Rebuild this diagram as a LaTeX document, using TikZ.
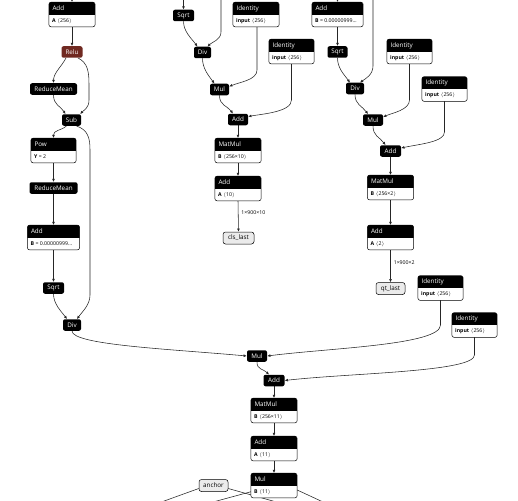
\documentclass[tikz,border=0pt]{standalone}
\usepackage{fontspec}
\setmainfont{Open Sans}
\usetikzlibrary{arrows.meta,backgrounds}
\definecolor{reluc}{HTML}{702921}
\newcommand{\hdrfont}{\fontsize{6.3pt}{7pt}\selectfont}
\newcommand{\bdyfont}{\fontsize{5.2pt}{6pt}\selectfont}
\newcommand{\lblfont}{\fontsize{5.2pt}{6pt}\selectfont}
\newcommand{\angv}[1]{$\langle$#1$\rangle$}
\newcommand{\attnode}[6]{%
  \node[minimum width=#4, minimum height=24.5pt, inner sep=0pt] (#1) at (#2,#3) {};
  \begin{scope}
    \clip[rounded corners=2.5pt] (#1.north west) rectangle (#1.south east);
    \fill[white] (#1.north west) rectangle (#1.south east);
    \fill[black] (#1.north west) rectangle ([yshift=-12.5pt]#1.north east);
  \end{scope}
  \draw[line width=0.5pt, rounded corners=2.5pt] (#1.north west) rectangle (#1.south east);
  \node[anchor=west, text=white, font=\hdrfont, inner sep=0pt] at ([xshift=3.5pt,yshift=-6.4pt]#1.north west) {#5};
  \node[anchor=west, font=\bdyfont, inner sep=0pt] at ([xshift=3.2pt,yshift=6pt]#1.south west) {#6};
}
\tikzset{
  op/.style={fill=black, text=white, rounded corners=2pt, minimum height=11.5pt, inner sep=0pt, font=\hdrfont},
  io/.style={draw=black, line width=0.5pt, fill=black!8, rounded corners=2.5pt, minimum height=12pt, inner sep=0pt, font=\hdrfont},
  e/.style={draw=black!85, line width=0.55pt, -{Latex[length=3.2pt,width=2.8pt]}},
  cut/.style={draw=black!85, line width=0.55pt},
  elbl/.style={font=\lblfont, anchor=west, inner sep=0pt, xshift=3pt}
}
\begin{document}
\begin{tikzpicture}[x=1pt,y=-1pt]
\useasboundingbox (0,0) rectangle (518,500);
\clip (0,0) rectangle (518,500);

% ---------- left column ----------
\attnode{addA}{72}{14.5}{46}{Add}{\textbf{A}~\angv{256}}
\node[op,fill=reluc,minimum width=21pt] (relu) at (72,52) {Relu};
\node[op,minimum width=47pt] (rm1) at (53.5,89) {ReduceMean};
\node[op,minimum width=19pt] (sub) at (71.5,120) {Sub};
\attnode{pow}{53.5}{150.5}{45}{Pow}{\textbf{Y} = 2}
\node[op,minimum width=48pt] (rm2) at (53.5,188) {ReduceMean};
\attnode{addL}{53.5}{237.5}{52}{Add}{\textbf{B} = 0.00000999…}
\node[op,minimum width=21pt] (sqrtL) at (53.5,288) {Sqrt};
\node[op,minimum width=18pt] (divL) at (72,325) {Div};

% ---------- middle column ----------
\node[op,minimum width=21pt] (sqrtM) at (183.5,15.5) {Sqrt};
\attnode{idM1}{256}{14.5}{46}{Identity}{\textbf{input}~\angv{256}}
\node[op,minimum width=17pt] (divM) at (202.5,52.5) {Div};
\attnode{idM2}{291.5}{51.5}{45}{Identity}{\textbf{input}~\angv{256}}
\node[op,minimum width=19pt] (mulM) at (219.5,89.5) {Mul};
\node[op,minimum width=20pt] (addM) at (238,119.5) {Add};
\attnode{mmM}{238}{150.5}{46}{MatMul}{\textbf{B}~\angv{256×10}}
\attnode{addM2}{238}{188.5}{46}{Add}{\textbf{A}~\angv{10}}
\node[io,minimum width=31pt] (cls) at (238.5,238) {cls\_last};

% ---------- right column ----------
\attnode{addR}{337.5}{14.5}{51}{Add}{\textbf{B} = 0.00000999…}
\node[op,minimum width=20pt] (sqrtR) at (337.5,52) {Sqrt};
\attnode{idR1}{409.5}{51.5}{45}{Identity}{\textbf{input}~\angv{256}}
\node[op,minimum width=18pt] (divR) at (355,88.5) {Div};
\attnode{idR2}{444.5}{89}{45}{Identity}{\textbf{input}~\angv{256}}
\node[op,minimum width=20pt] (mulR) at (373,120) {Mul};
\node[op,minimum width=21pt] (addR2) at (390.5,151) {Add};
\attnode{mmR}{390.5}{187.5}{46}{MatMul}{\textbf{B}~\angv{256×2}}
\attnode{addR3}{390.5}{237.5}{46}{Add}{\textbf{A}~\angv{2}}
\node[io,minimum width=29pt] (qt) at (390.5,288.5) {qt\_last};
\attnode{idB1}{440.5}{288}{45}{Identity}{\textbf{input}~\angv{256}}
\attnode{idB2}{474.5}{325}{45}{Identity}{\textbf{input}~\angv{256}}

% ---------- bottom ----------
\node[op,minimum width=20pt] (mulB) at (257,356) {Mul};
\node[op,minimum width=21pt] (addBt) at (274,380.5) {Add};
\attnode{mmB}{274}{410.5}{46}{MatMul}{\textbf{B}~\angv{256×11}}
\attnode{addB3}{274}{448.5}{46}{Add}{\textbf{A}~\angv{11}}
\attnode{mulB2}{274}{485.5}{46}{Mul}{\textbf{B}~\angv{11}}
\node[io,minimum width=29pt] (anc) at (213.5,485.5) {anchor};

% free ends
\coordinate (inA) at (72,-6);
\coordinate (inSM) at (183.5,-6);
\coordinate (inDM) at (221,-6);
\coordinate (inAR) at (337.5,-6);
\coordinate (inDR) at (373,-6);
\coordinate (cutA) at (160,502.5);
\coordinate (cutB) at (280,503);
\coordinate (cutC) at (213,502);
\coordinate (cutD) at (322,501.5);

\begin{pgfonlayer}{background}
\fill[white] (0,0) rectangle (518,500);
% left column
\draw[e] (inA) -- (addA.north);
\draw[e] (addA.south) -- (relu.north);
\draw[e] ([xshift=-6pt]relu.south) .. controls +(-4,8) and +(0,-10) .. (rm1.north);
\draw[e] ([xshift=6pt]relu.south) .. controls (88,63) and (89,72) .. (89,85) -- (89,100) .. controls (89,108) and (84,110) .. ([xshift=-1pt]sub.north east);
\draw[e] (rm1.south) .. controls +(0,10) and +(-5,-8) .. ([xshift=-6pt]sub.north);
\draw[e] ([xshift=-5pt]sub.south) .. controls +(-6,5) and +(0,-8) .. (pow.north);
\draw[e] ([xshift=5pt]sub.south) .. controls (88,130) and (90,138) .. (90,150) -- (90,295) .. controls (90,305) and (82,312) .. ([xshift=5pt]divL.north);
\draw[e] (pow.south) -- (rm2.north);
\draw[e] (rm2.south) -- (addL.north);
\draw[e] (addL.south) -- (sqrtL.north);
\draw[e] (sqrtL.south) .. controls +(0,10) and +(-6,-8) .. ([xshift=-5pt]divL.north);
\draw[e] (divL.south) .. controls (72,345) and (170,349) .. (mulB.west);
% middle column
\draw[e] (inSM) -- (sqrtM.north);
\draw[e] (inDM) -- (221,32) .. controls (221,40) and (212,42) .. ([xshift=5pt]divM.north);
\draw[e] (sqrtM.south) .. controls +(0,10) and +(-6,-8) .. ([xshift=-5pt]divM.north);
\draw[e] (divM.south) .. controls +(0,10) and +(-6,-8) .. ([xshift=-5pt]mulM.north);
\draw[e] ([xshift=1pt]idM1.south) -- (257,70) .. controls (257,80) and (240,82) .. ([yshift=3pt]mulM.east);
\draw[e] (idM2.south) -- (291.5,100) .. controls (291.5,112) and (262,114) .. ([yshift=3pt]addM.east);
\draw[e] (mulM.south) .. controls +(0,10) and +(-6,-8) .. ([xshift=-5pt]addM.north);
\draw[e] (addM.south) -- (mmM.north);
\draw[e] (mmM.south) -- (addM2.north);
\draw[e] (addM2.south) -- node[elbl,pos=0.39] {1×900×10} (cls.north);
% right column
\draw[e] (inAR) -- (addR.north);
\draw[e] (inDR) -- (373,66) .. controls (373,75) and (365,79) .. ([xshift=5pt]divR.north);
\draw[e] (addR.south) -- (sqrtR.north);
\draw[e] (sqrtR.south) .. controls +(0,10) and +(-6,-8) .. ([xshift=-5pt]divR.north);
\draw[e] (idR1.south) -- (409.5,100) .. controls (409.5,110) and (392,113) .. ([yshift=3pt]mulR.east);
\draw[e] (divR.south) .. controls +(0,10) and +(-6,-8) .. ([xshift=-5pt]mulR.north);
\draw[e] (idR2.south) -- (444.5,132) .. controls (444.5,142) and (420,144) .. ([yshift=3pt]addR2.east);
\draw[e] (mulR.south) .. controls +(0,10) and +(-6,-8) .. ([xshift=-5pt]addR2.north);
\draw[e] (addR2.south) -- (mmR.north);
\draw[e] (mmR.south) -- (addR3.north);
\draw[e] (addR3.south) -- node[elbl,pos=0.40] {1×900×2} (qt.north);
% bottom
\draw[e] (idB1.south) -- (440.5,325) .. controls (440.5,345) and (330,348) .. (mulB.east);
\draw[e] (idB2.south) -- (474.5,355) .. controls (474.5,372) and (350,373) .. (addBt.east);
\draw[e] (mulB.south) .. controls +(0,8) and +(-6,-6) .. ([xshift=-5pt]addBt.north);
\draw[e] (addBt.south) -- (mmB.north);
\draw[e] (mmB.south) -- (addB3.north);
\draw[e] (addB3.south) -- (mulB2.north);
\draw[cut] ([yshift=-3pt]anc.west) -- (cutA);
\draw[cut] ([yshift=-3pt]anc.east) -- (cutB);
\draw[cut] (mulB2.center) -- (cutC);
\draw[cut] ([yshift=-4.5pt]mulB2.east) -- (cutD);
\end{pgfonlayer}
\end{tikzpicture}
\end{document}
